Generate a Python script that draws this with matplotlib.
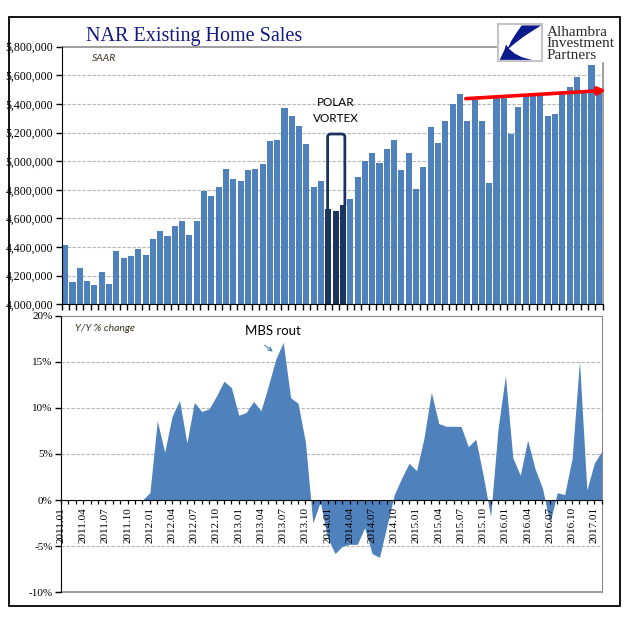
import matplotlib
matplotlib.use("Agg")
import matplotlib.pyplot as plt
from matplotlib.path import Path
from matplotlib.patches import PathPatch, Polygon, Rectangle
from matplotlib.lines import Line2D
from matplotlib.ticker import FuncFormatter, FixedLocator
import numpy as np

# ---------------- data ----------------
sales = [4.412, 4.155, 4.253, 4.162, 4.134, 4.225, 4.141, 4.371, 4.322, 4.336, 4.385, 4.343,
         4.454, 4.510, 4.475, 4.545, 4.579, 4.482, 4.579, 4.795, 4.755, 4.823, 4.948, 4.874,
         4.864, 4.941, 4.948, 4.983, 5.143, 5.150, 5.372, 5.316, 5.247, 5.122, 4.823, 4.864,
         4.663, 4.649, 4.691, 4.739, 4.892, 5.003, 5.059, 4.990, 5.087, 5.150, 4.941, 5.059,
         4.809, 4.962, 5.240, 5.129, 5.282, 5.400, 5.469, 5.282, 5.428, 5.282, 4.851, 5.441,
         5.455, 5.191, 5.379, 5.469, 5.455, 5.469, 5.316, 5.330, 5.469, 5.518, 5.588, 5.497,
         5.671, 5.483]
sales = [v * 1e6 for v in sales]

yoy = [0, 0, 0, 0, 0, 0, 0, 0, 0, 0, 0, 0,
       0.8, 8.6, 5.2, 9.1, 10.8, 6.2, 10.6, 9.6, 9.9, 11.3, 12.9, 12.2,
       9.2, 9.5, 10.7, 9.7, 12.4, 15.3, 17.1, 11.1, 10.5, 6.3, -2.5, -0.2,
       -4.1, -5.8, -5.0, -4.8, -4.8, -3.0, -5.8, -6.2, -2.8, 0.6, 2.4, 4.0,
       3.2, 6.7, 11.7, 8.3, 8.0, 8.0, 8.0, 5.8, 6.6, 2.7, -1.8, 7.7,
       13.5, 4.6, 2.7, 6.5, 3.4, 1.3, -2.5, 0.8, 0.6, 4.5, 15.1, 1.1,
       4.0, 5.3]

polar_vortex = [36, 37, 38]   # highlighted months (2014.01-2014.03)

x_labels = ["2011.01", "2011.04", "2011.07", "2011.10",
            "2012.01", "2012.04", "2012.07", "2012.10",
            "2013.01", "2013.04", "2013.07", "2013.10",
            "2014.01", "2014.04", "2014.07", "2014.10",
            "2015.01", "2015.04", "2015.07", "2015.10",
            "2016.01", "2016.04", "2016.07", "2016.10",
            "2017.01"]

top_ticks = [4000000, 4200000, 4400000, 4600000, 4800000, 5000000, 5200000, 5400000, 5600000, 5800000]
bot_ticks = [-10, -5, 0, 5, 10, 15, 20]

# ---------------- style ----------------
BLUE = "#4f81bd"
DARK = "#1b355e"
GRID = "#b4b4b4"
FRAME = "#8c8c8c"
SERIF = "Liberation Serif"
SANS = "Lato"

W, H = 641, 623
fig = plt.figure(figsize=(W / 100, H / 100), dpi=100)

def fx(px):
    return px / W

def fy(py):
    return 1 - py / H

# outer frame
fig.add_artist(Rectangle((fx(9), fy(606)), fx(620) - fx(9), fy(17.3) - fy(606),
                         transform=fig.transFigure, fill=False, ec="black", lw=1.3, zorder=0))

# ---------------- top chart ----------------
n = len(sales)
xs = np.arange(n)
ax = fig.add_axes([fx(61.5), fy(304.3), fx(602.5) - fx(61.5), fy(46.7) - fy(304.3)])
colors = [DARK if i in polar_vortex else BLUE for i in xs]
ax.bar(xs, sales, width=0.83, color=colors, zorder=2)
ax.set_xlim(-0.5, n - 0.5)
ax.set_ylim(top_ticks[0], top_ticks[-1])
ax.set_yticks(top_ticks)
ax.yaxis.set_major_formatter(FuncFormatter(lambda v, p: f"{int(v):,}"))
ax.set_xticks(np.arange(-0.5, n, 1.0))
ax.set_xticklabels([])
ax.tick_params(axis="x", direction="out", length=4, width=1, color="black")
ax.tick_params(axis="y", direction="out", length=4, width=1, color="black", pad=2,
               labelsize=8.5)
for lab in ax.get_yticklabels():
    lab.set_fontfamily(SERIF)
for v in top_ticks[1:-1]:
    ax.axhline(v, color=GRID, lw=0.8, ls=(0, (3, 1.5)), zorder=1)
for s in ["top", "right"]:
    ax.spines[s].set_visible(False)
ax.spines["left"].set_color("black")
ax.spines["bottom"].set_color("black")
ax.add_line(Line2D([0, 0.803], [1, 1], transform=ax.transAxes, color=FRAME, lw=1.2, clip_on=False))
ax.add_line(Line2D([1, 1], [0, 0.937], transform=ax.transAxes, color=FRAME, lw=1.2, clip_on=False))

ax.text(0.056, 0.955, "SAAR", transform=ax.transAxes, fontsize=7.5, fontstyle="italic",
        family=SANS, color="#3a3020", va="center", ha="left")

# polar vortex bracket
xl, xr = 35.9, 38.26
top = 5.19e6
rx, ry = 0.45, 0.022e6
verts = [(xl, 4.665e6), (xl, top - ry), (xl, top), (xl + rx, top),
         (xr - rx, top), (xr, top), (xr, top - ry), (xr, 4.692e6)]
codes = [Path.MOVETO, Path.LINETO, Path.CURVE3, Path.CURVE3,
         Path.LINETO, Path.CURVE3, Path.CURVE3, Path.LINETO]
ax.add_patch(PathPatch(Path(verts, codes), fill=False, ec=DARK, lw=2, zorder=3))
ax.text(37.05, 5.41e6, "POLAR", ha="center", va="center", fontsize=8.5, family=SANS, color="black")
ax.text(37.05, 5.295e6, "VORTEX", ha="center", va="center", fontsize=8.5, family=SANS, color="black")

# red trend arrow
ax.annotate("", xy=(74.0, 5.495e6), xytext=(54.8, 5.437e6),
            arrowprops=dict(arrowstyle="-|>", color="#ff0000", lw=2.6, mutation_scale=11,
                            shrinkA=0, shrinkB=0),
            annotation_clip=False, zorder=5)

# title
fig.text(fx(194.5), fy(37), "NAR Existing Home Sales", ha="center", va="center",
         fontsize=14.5, family=SERIF, color="#121a80")

# ---------------- logo ----------------
lax = fig.add_axes([fx(498.3), fy(61), fx(541.7) - fx(498.3), fy(24.3) - fy(61)])
lax.set_xlim(0, 1)
lax.set_ylim(0, 1)
lax.set_xticks([])
lax.set_yticks([])
for s in lax.spines.values():
    s.set_color("#c4c4c4")
    s.set_linewidth(1.5)
lax.add_patch(Polygon([(0.54, 0.97), (0.99, 0.97), (0.80, 0.83), (0.58, 0.66),
                       (0.38, 0.48), (0.20, 0.30), (0.30, 0.55), (0.42, 0.77)],
                      closed=True, fc="#0a1a8c", ec="none"))
lax.add_patch(Polygon([(0.03, 0.03), (0.78, 0.03), (0.55, 0.10), (0.38, 0.20),
                       (0.25, 0.33), (0.18, 0.45), (0.14, 0.30), (0.08, 0.15)],
                      closed=True, fc="#0a1a8c", ec="none"))
for i, word in enumerate(["Alhambra", "Investment", "Partners"]):
    fig.text(fx(546.5), fy(35.5 + i * 11.7), word, ha="left", va="baseline",
             fontsize=11, family=SERIF, color="#2a2a2a")

# ---------------- bottom chart ----------------
bx = fig.add_axes([fx(61), fy(592.3), fx(601.7) - fx(61), fy(315.67) - fy(592.3)])
bx.set_axisbelow(False)
bx.fill_between(xs, 0, yoy, color=BLUE, lw=0, zorder=2)
bx.set_xlim(0, n - 1)
bx.set_ylim(bot_ticks[0], bot_ticks[-1])
bx.set_yticks(bot_ticks)
bx.set_yticklabels([f"{t}%" for t in bot_ticks], family=SERIF, fontsize=8)
bx.tick_params(axis="y", direction="out", length=4, width=1, color="black", pad=2)
for v in [-5, 5, 10, 15]:
    bx.axhline(v, color=GRID, lw=0.8, ls=(0, (3, 1.5)), zorder=1)
bx.spines["bottom"].set_position(("data", 0))
bx.spines["bottom"].set_color("black")
bx.spines["bottom"].set_zorder(4)
bx.spines["left"].set_color("black")
bx.spines["top"].set_color(FRAME)
bx.spines["right"].set_color(FRAME)
bx.add_line(Line2D([0, 1], [0, 0], transform=bx.transAxes, color=FRAME, lw=1.2, clip_on=False))
bx.xaxis.set_major_locator(FixedLocator(list(range(0, n, 3))))
bx.xaxis.set_minor_locator(FixedLocator(list(range(0, n))))
bx.set_xticklabels(x_labels, rotation=90, family=SERIF, fontsize=8, va="top", ha="center")
bx.tick_params(axis="x", which="both", direction="out", length=3, width=0.9, color="black", pad=2)

bx.text(0.025, 0.955, "Y/Y % change", transform=bx.transAxes, fontsize=7.5, fontstyle="italic",
        family=SANS, color="#3a3020", va="center", ha="left")

bx.text(28.65, 18.3, "MBS rout", ha="center", va="center", fontsize=9.5, family=SANS, color="black")
bx.annotate("", xy=(28.6, 16.1), xytext=(27.5, 16.8),
            arrowprops=dict(arrowstyle="->", color=BLUE, lw=0.8, mutation_scale=7,
                            shrinkA=0, shrinkB=0))

fig.savefig("out.png", dpi=100)
